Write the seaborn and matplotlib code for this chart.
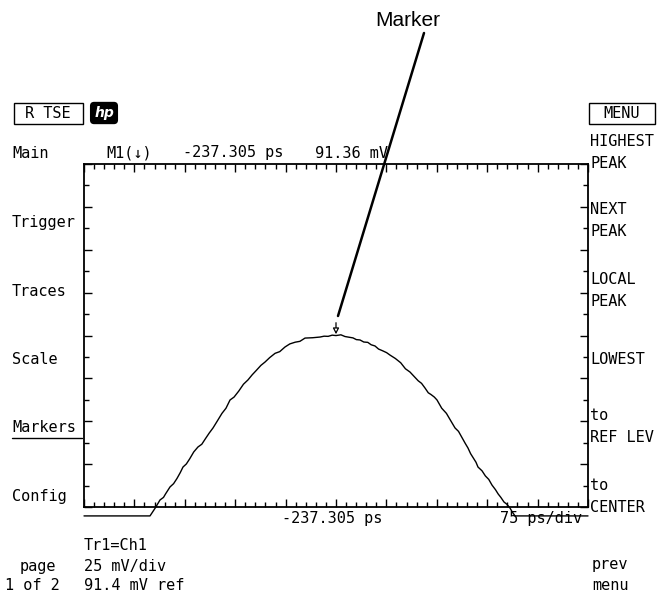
import matplotlib
matplotlib.use("Agg")
import matplotlib.pyplot as plt
from matplotlib.lines import Line2D
from matplotlib.patches import Rectangle
import numpy as np
import pandas as pd
import seaborn as sns

# screen settings
center_ps = -237.305
ps_per_div = 75
ref_mv = 91.4
mv_per_div = 25
marker_ps = -237.305
marker_mv = 91.36

# waveform trace (time in ps, voltage in mV)
time_ps = [-612.3, -514.1, -506.0, -499.2, -494.0, -491.0, -484.3, -479.0,
           -474.0, -469.0, -465.0, -460.0, -455.0, -449.0, -442.7, -437.0,
           -432.0, -426.0, -420.3, -414.0, -407.0, -401.0, -395.0, -389.0,
           -382.0, -375.0, -368.3, -362.0, -356.0, -349.0, -343.0, -336.0,
           -328.0, -321.0, -313.2, -306.0, -298.0, -291.0, -283.4, -272.0,
           -261.1, -255.0, -249.0, -243.0, -237.3, -230.0, -223.9, -218.0,
           -212.0, -207.0, -201.6, -196.0, -190.0, -185.0, -179.3, -174.0,
           -168.0, -162.0, -157.0, -149.0, -141.0, -134.0, -127.2, -121.0,
           -115.0, -110.0, -104.9, -100.0, -96.0, -91.0, -87.0, -80.0,
           -73.0, -67.0, -60.2, -55.0, -50.0, -45.0, -40.9, -37.0,
           -33.0, -29.0, -26.0, -20.0, -15.0, -10.0, -5.2, 0.0,
           4.0, 8.0, 12.7, 17.0, 21.6, 25.0, 29.1, 137.7]
volt_mv = [-13.8, -13.8, -9.0, -4.5, -3.0, -1.0, 3.1, 5.0,
           8.0, 11.5, 14.7, 16.5, 19.5, 23.5, 26.4, 28.0,
           31.0, 34.5, 37.5, 41.5, 46.0, 49.0, 53.8, 55.5,
           59.0, 63.0, 65.5, 68.5, 71.0, 74.0, 75.9, 78.5,
           81.0, 82.0, 84.7, 86.5, 87.5, 88.0, 89.9, 90.1,
           90.5, 91.0, 90.9, 91.6, 91.36, 91.8, 90.8, 90.4,
           90.0, 89.0, 88.8, 87.6, 87.4, 86.0, 85.3, 83.5,
           82.5, 81.4, 80.0, 78.0, 75.5, 72.0, 70.1, 67.5,
           65.0, 63.5, 60.8, 58.0, 57.0, 55.5, 53.8, 49.0,
           46.0, 42.0, 37.5, 35.5, 32.0, 28.5, 25.8, 22.5,
           20.0, 17.5, 14.7, 12.5, 9.5, 7.5, 4.2, 1.5,
           -1.0, -3.0, -5.7, -7.0, -9.2, -11.5, -13.8, -13.8]

left_menu = ["Main", "Trigger", "Traces", "Scale", "Markers", "Config"]
left_menu_y = [153, 222, 292, 360, 428, 497]

right_menu = [("HIGHEST", 141), ("PEAK", 163), ("NEXT", 210), ("PEAK", 232),
              ("LOCAL", 279), ("PEAK", 301), ("LOWEST", 359), ("to", 416),
              ("REF LEV", 437), ("to", 486), ("CENTER", 508)]

W, H = 658, 593
mono = "DejaVu Sans Mono"

sns.set_style("white")
plt.rcParams["font.family"] = [mono, "DejaVu Sans"]
plt.rcParams["text.color"] = "black"

fig = plt.figure(figsize=(W / 100, H / 100), dpi=100)


def fx(x):
    return x / W


def fy(y):
    return 1 - y / H


def ftext(x, y, s, **kw):
    kw.setdefault("fontsize", 11)
    kw.setdefault("va", "center")
    kw.setdefault("ha", "left")
    kw.setdefault("color", "black")
    fig.text(fx(x), fy(y), s, **kw)


ax = fig.add_axes([fx(84), fy(507), fx(588) - fx(84), fy(164) - fy(507)])

df = pd.DataFrame({"time": time_ps, "volt": volt_mv})
sns.lineplot(data=df, x="time", y="volt", ax=ax, color="black",
             linewidth=1.0, estimator=None)
for ln in ax.lines:
    ln.set_clip_on(False)

x0 = center_ps - 5 * ps_per_div
x1 = center_ps + 5 * ps_per_div
y0 = ref_mv - 4 * mv_per_div
y1 = ref_mv + 4 * mv_per_div
ax.set_xlim(x0, x1)
ax.set_ylim(y0, y1)
ax.set_xticks(np.linspace(x0, x1, 11))
ax.set_xticks(np.linspace(x0, x1, 51), minor=True)
ax.set_yticks(np.linspace(y0, y1, 9))
ax.set_yticks(np.linspace(y0, y1, 17), minor=True)
ax.tick_params(which="both", direction="in", top=True, bottom=True,
               left=True, right=True, labelbottom=False, labelleft=False,
               color="black", width=1.0)
ax.tick_params(which="major", length=6)
ax.tick_params(which="minor", length=3.5)
ax.set_xlabel("")
ax.set_ylabel("")
for sp in ax.spines.values():
    sp.set_color("black")
    sp.set_linewidth(1.3)

# marker arrow at the peak
ax.annotate("", xy=(marker_ps, marker_mv + 0.8),
            xytext=(marker_ps, marker_mv + 7.5),
            arrowprops=dict(arrowstyle="-|>,head_length=0.35,head_width=0.18",
                            color="black", lw=0.9, fc="white",
                            shrinkA=0, shrinkB=0))

# header boxes
fig.add_artist(Rectangle((fx(14), fy(124)), fx(83) - fx(14), fy(103) - fy(124),
                         transform=fig.transFigure, fill=False, lw=1.0,
                         ec="black"))
ftext(48, 114, "R TSE", ha="center")
ftext(104, 113, "hp", ha="center", color="white", fontsize=10,
      fontweight="bold", style="italic", family="DejaVu Sans",
      bbox=dict(boxstyle="round,pad=0.25", fc="black", ec="black"))
fig.add_artist(Rectangle((fx(589), fy(124)), fx(655) - fx(589), fy(103) - fy(124),
                         transform=fig.transFigure, fill=False, lw=1.0,
                         ec="black"))
ftext(622, 114, "MENU", ha="center")

# marker readout line
ftext(106, 153, "M1(\u2193)")
ftext(183, 153, f"{marker_ps:.3f} ps")
ftext(315, 153, f"{marker_mv:.2f} mV")

for name, yy in zip(left_menu, left_menu_y):
    ftext(12, yy, name)
fig.add_artist(Line2D([fx(12), fx(82)], [fy(438), fy(438)],
                      transform=fig.transFigure, color="black", lw=1.0))

for name, yy in right_menu:
    ftext(590, yy, name)

# bottom readouts
ftext(282, 519, f"{center_ps:.3f} ps")
ftext(500, 519, f"{ps_per_div} ps/div")
ftext(84, 545, "Tr1=Ch1")
ftext(20, 566, "page")
ftext(84, 566, f"{mv_per_div} mV/div")
ftext(5, 586, "1 of 2")
ftext(84, 586, f"{ref_mv} mV ref")
ftext(592, 565, "prev")
ftext(592, 586, "menu")

# callout
ftext(408, 20, "Marker", ha="center", family="Liberation Sans", fontsize=15)
fig.add_artist(Line2D([fx(424), fx(338)], [fy(33), fy(316)],
                      transform=fig.transFigure, color="black", lw=1.8))

fig.savefig("out.png", dpi=100, facecolor="white")
